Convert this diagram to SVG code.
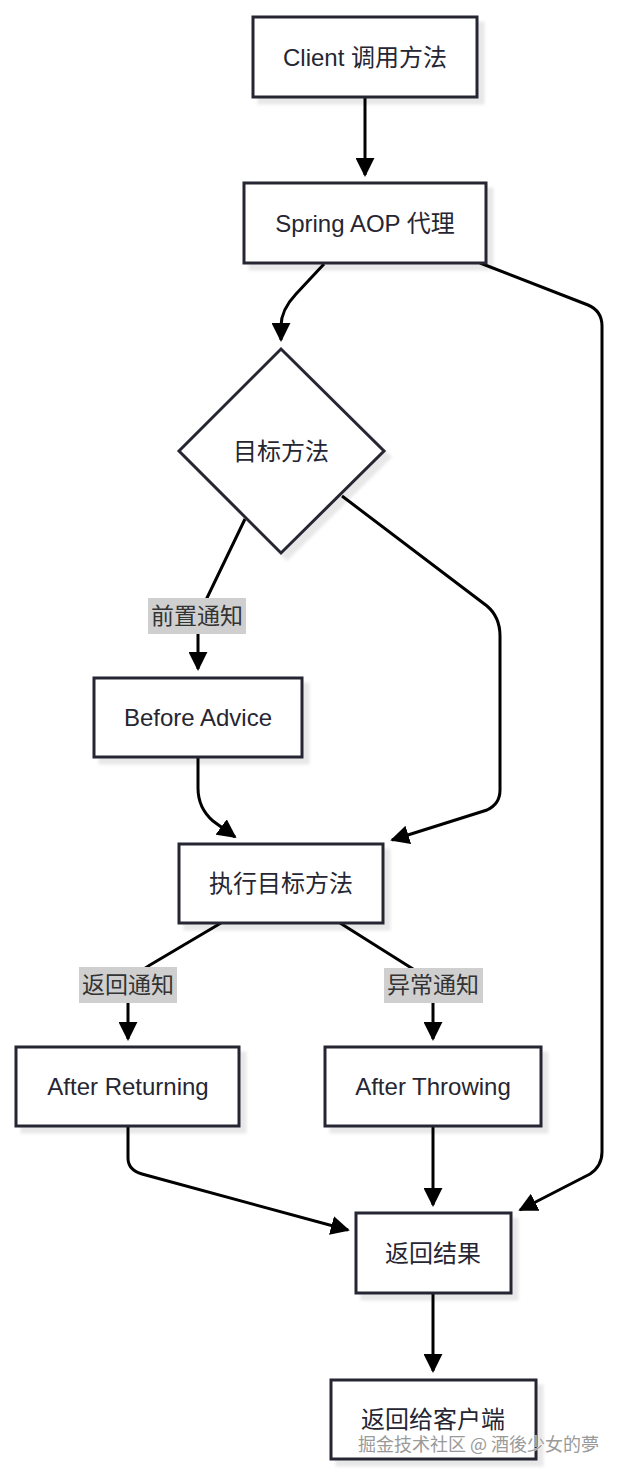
<svg xmlns="http://www.w3.org/2000/svg" width="620" height="1477" viewBox="0 0 620 1477">
<style>
.node{fill:#fff;stroke:#262633;stroke-width:3;filter:url(#sh)}
.t{font-family:"Liberation Sans","Noto Sans CJK SC",sans-serif;font-size:24px;fill:#262633;text-anchor:middle;dominant-baseline:central}
.lb{fill:#cfcfcf}
.lt{font-family:"Liberation Sans","Noto Sans CJK SC",sans-serif;font-size:23px;fill:#333;text-anchor:middle;dominant-baseline:central}
.e{fill:none;stroke:#000;stroke-width:3;marker-end:url(#ah)}
.wm{font-family:"Noto Sans CJK SC",sans-serif;font-size:18px;fill:#9a9a9a;stroke:#fff;stroke-width:0.6;paint-order:stroke}
</style>
<defs>
<filter id="sh" x="-10%" y="-10%" width="130%" height="130%">
<feDropShadow dx="6" dy="6" stdDeviation="1.5" flood-color="#000" flood-opacity="0.09"/>
</filter>
<marker id="ah" viewBox="0 0 10 10" markerUnits="userSpaceOnUse" markerWidth="19" markerHeight="19" refX="9" refY="5" orient="auto">
<path d="M0,0 L10,5 L0,10 z" fill="#000"/>
</marker>
</defs>
<rect width="620" height="1477" fill="#fff"/>
<g id="connectors">
<path class="e" d="M365,97 L365,175"/>
<path class="e" d="M324,264 L296,294 Q281,310 281,326 L281,340"/>
<path class="e" d="M480,263 L588,305 Q602,311 602,326 L602,1152 Q602,1166 590,1174 L520,1210"/>
<path class="e" d="M245,519 L206,600 Q198,614 198,630 L198,669"/>
<path class="e" d="M342,496 L487,606 Q500,617 500,636 L500,790 Q500,804 487,810 L392,840"/>
<path class="e" d="M198,757 L198,788 Q198,808 213,821 L235,837"/>
<path class="e" d="M221,923 L150,965 Q128,978 128,996 L128,1039"/>
<path class="e" d="M340,923 L413,969 Q433,982 433,996 L433,1039"/>
<path class="e" d="M128,1126 L128,1158 Q128,1170 142,1174 L348,1230"/>
<path class="e" d="M433,1126 L433,1205"/>
<path class="e" d="M433,1293 L433,1371"/>
</g>
<g id="lbl-before"><rect class="lb" x="148" y="598" width="98" height="36"/><text class="lt" x="197" y="616">前置通知</text></g>
<g id="lbl-return"><rect class="lb" x="79" y="967" width="98" height="36"/><text class="lt" x="128" y="985">返回通知</text></g>
<g id="lbl-throw"><rect class="lb" x="384" y="968" width="99" height="35"/><text class="lt" x="433" y="985">异常通知</text></g>
<g id="client"><rect class="node" x="253" y="17" width="224" height="80"/><text class="t" x="365" y="57">Client 调用方法</text></g>
<g id="proxy"><rect class="node" x="244" y="183" width="242" height="80"/><text class="t" x="365" y="223">Spring AOP 代理</text></g>
<g id="target"><polygon class="node" points="281,349 384,451 281,553 179,451"/><text class="t" x="281" y="451">目标方法</text></g>
<g id="before"><rect class="node" x="94" y="678" width="208" height="79"/><text class="t" x="198" y="717">Before Advice</text></g>
<g id="exec"><rect class="node" x="179" y="844" width="204" height="79"/><text class="t" x="281" y="883">执行目标方法</text></g>
<g id="afterRet"><rect class="node" x="16" y="1047" width="223" height="79"/><text class="t" x="128" y="1086">After Returning</text></g>
<g id="afterThrow"><rect class="node" x="325" y="1047" width="216" height="79"/><text class="t" x="433" y="1086">After Throwing</text></g>
<g id="result"><rect class="node" x="356" y="1213" width="155" height="80"/><text class="t" x="433" y="1253">返回结果</text></g>
<g id="client-return"><rect class="node" x="331" y="1380" width="205" height="79"/><text class="t" x="433" y="1419">返回给客户端</text></g>
<text class="wm" x="358" y="1451">掘金技术社区 @ 酒後少女的夢</text>
</svg>
